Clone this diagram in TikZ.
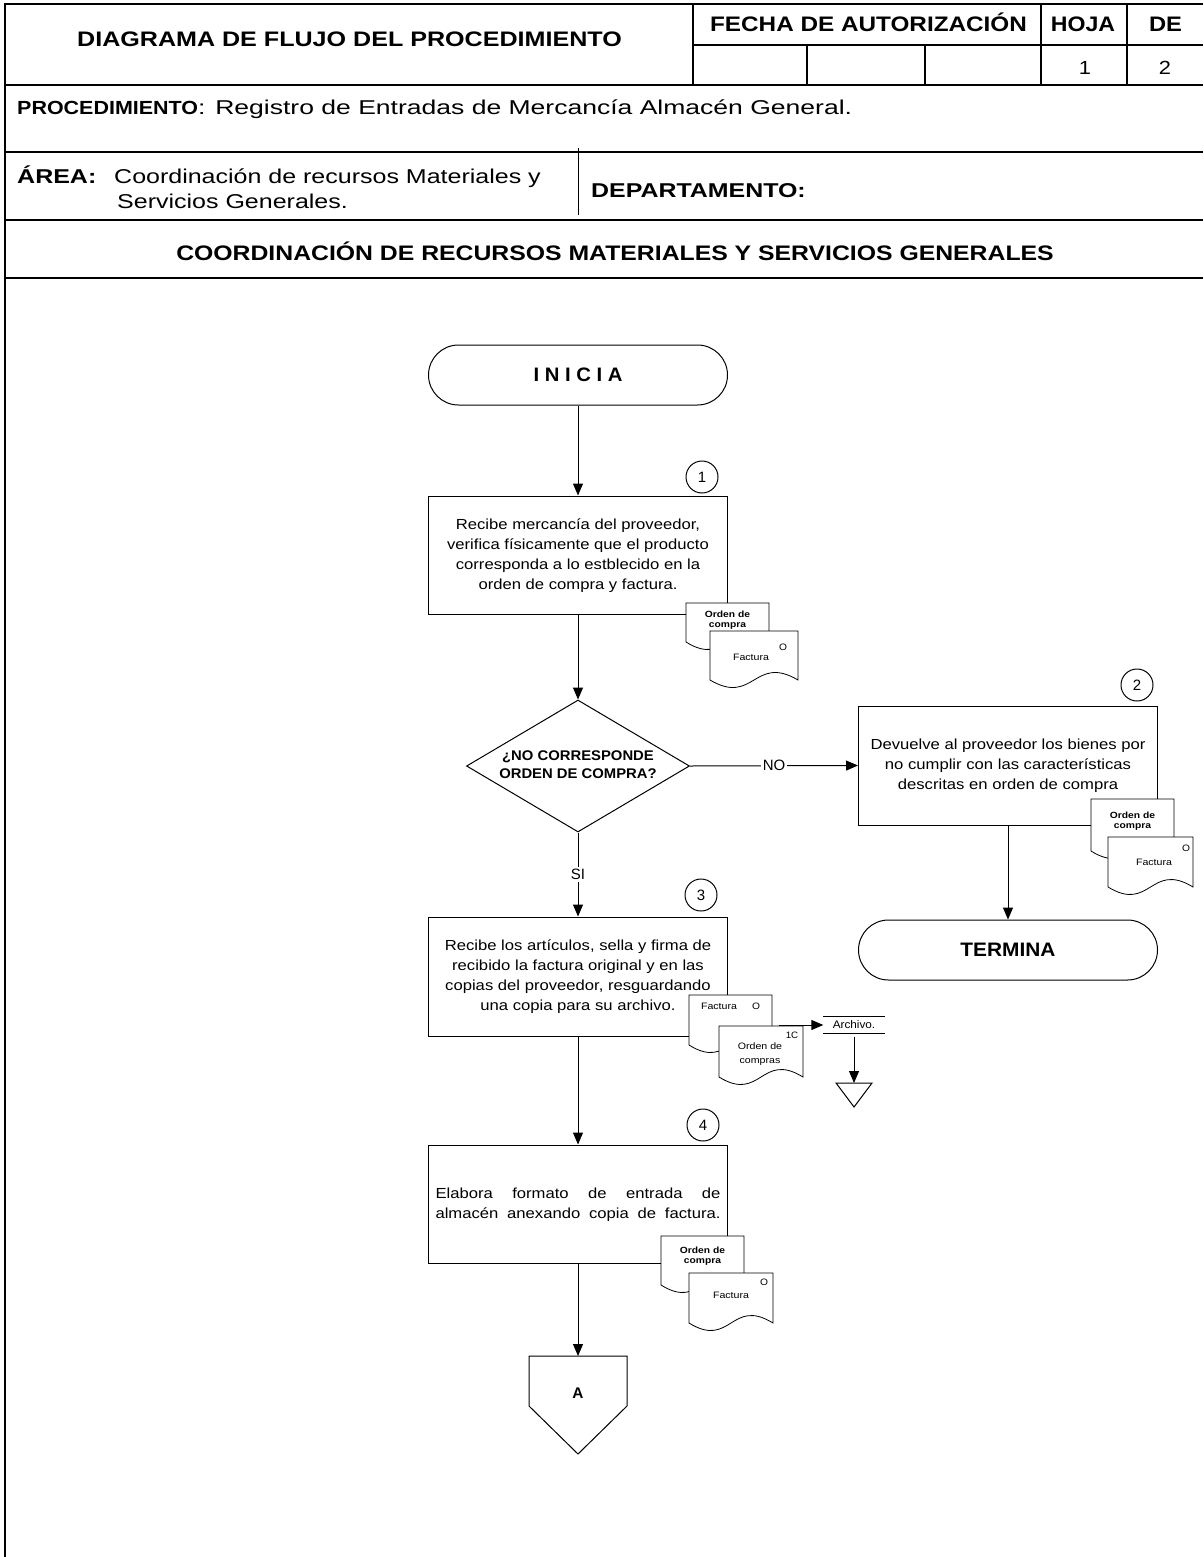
\documentclass[tikz,border=0pt]{standalone}
\usepackage{fontspec}
\setmainfont{Liberation Sans}
\usepackage{graphicx}
\usetikzlibrary{shapes.geometric,arrows.meta}
\newcommand{\hs}[2]{\scalebox{#1}[1]{#2}}
\newcommand{\fs}[2]{\fontsize{#1}{#2}\selectfont}
\newcommand{\docshape}[4]{%
  \draw[docline] (#1,#2) -- (#3,#2) -- (#3,#4) .. controls ({(#1+#3)/2},{#4-26}) and ({(#1+#3)/2},{#4+26}) .. (#1,#4) -- cycle;}
\begin{document}
\begin{tikzpicture}[x=1pt,y=-1pt,
  every node/.style={inner sep=0pt},
  frame/.style={line width=2pt},
  box/.style={draw, line width=1pt, minimum width=299pt, minimum height=118pt, fill=white, font=\fs{14.6}{20}},
  term/.style={draw, line width=1pt, rounded corners=30pt, minimum width=299pt, minimum height=60pt},
  num/.style={draw, circle, line width=1pt, minimum size=32pt, font=\fs{15}{18}},
  flow/.style={line width=1pt, -{Triangle[length=12pt,width=10pt]}},
  docline/.style={line width=0.8pt, fill=white},
  lbl/.style={fill=white, inner sep=2pt, font=\fs{15}{18}},
  hdb/.style={font=\fs{21}{25}\bfseries, anchor=base},
  dtb/.style={font=\fs{9}{10}\bfseries},
  dtr/.style={font=\fs{9.3}{11}}
]
\fill[white] (0,0) rectangle (1203,1557);
\useasboundingbox (0,0) rectangle (1203,1557);

% ---------- header frame ----------
\draw[frame] (1203,4) -- (5,4) -- (5,1557);
\draw[frame] (5,85) -- (1203,85);
\draw[frame] (5,152) -- (1203,152);
\draw[frame] (5,220) -- (1203,220);
\draw[frame] (5,278) -- (1203,278);
\draw[frame] (693,4) -- (693,85);
\draw[frame] (1041,4) -- (1041,85);
\draw[frame] (1127,4) -- (1127,85);
\draw[frame] (693,45) -- (1203,45);
\draw[line width=1.5pt] (807,45) -- (807,85);
\draw[line width=1.5pt] (925,45) -- (925,85);
\draw[line width=1pt] (578,148) -- (578,215);

% ---------- header texts ----------
\node[hdb] (tdiag) at (349.5,47) {\hs{1.195}{DIAGRAMA DE FLUJO DEL PROCEDIMIENTO}};
\node[hdb] (tfecha) at (868.5,32) {\hs{1.157}{FECHA DE AUTORIZACIÓN}};
\node[hdb] (thoja) at (1083,32) {\hs{1.1}{HOJA}};
\node[hdb] (tde) at (1165.5,32) {\hs{1.13}{DE}};
\node[anchor=base, font=\fs{19}{22}] (tuno) at (1085,75) {\hs{1.15}{1}};
\node[anchor=base, font=\fs{19}{22}] (tdos) at (1165,75) {\hs{1.15}{2}};
\node[anchor=base west] (tproc) at (17,115) {\hs{1.13}{\fs{19}{23}\bfseries PROCEDIMIENTO}\hs{1.326}{\fs{20}{24}: Registro de Entradas de Mercancía Almacén General.}};
\node[anchor=base west, font=\fs{20}{24}\bfseries] (tarea) at (17,183) {\hs{1.25}{ÁREA:}};
\node[anchor=base west, font=\fs{20}{24}] (tarea1) at (114,183) {\hs{1.25}{Coordinación de recursos Materiales y}};
\node[anchor=base west, font=\fs{20}{24}] (tarea2) at (117,208) {\hs{1.25}{Servicios Generales.}};
\node[anchor=base west, font=\fs{20}{24}\bfseries] (tdep) at (591,197) {\hs{1.246}{DEPARTAMENTO:}};
\node[hdb] (tcoord) at (615,260) {\hs{1.18}{COORDINACIÓN DE RECURSOS MATERIALES Y SERVICIOS GENERALES}};

% ---------- flowchart nodes ----------
\node[term, font=\fs{19.5}{22}\bfseries] (ini) at (578,375) {\hs{1.04}{I N I C I A}};
\node[box] (b1) at (578,555) {\hs{1.14}{\begin{tabular}{@{}c@{}}Recibe mercancía del proveedor,\\verifica físicamente que el producto\\corresponda a lo estblecido en la\\orden de compra y factura.\end{tabular}}};
\node[num] (n1) at (702,477) {1};
\node[diamond, draw, line width=1pt, aspect=1.69, minimum width=223pt, minimum height=132pt, font=\fs{14}{18}\bfseries] (d1) at (578,766) {\hs{1.06}{\begin{tabular}{@{}c@{}}¿NO CORRESPONDE\\ORDEN DE COMPRA?\end{tabular}}};
\node[box, minimum height=119pt] (b2) at (1008,765.5) {\hs{1.14}{\begin{tabular}{@{}c@{}}Devuelve al proveedor los bienes por\\no cumplir con las características\\descritas en orden de compra\end{tabular}}};
\node[num] (n2) at (1137,685) {2};
\node[term, font=\fs{19.5}{22}\bfseries] (fin) at (1008,950) {\hs{1.07}{TERMINA}};
\node[box, minimum height=119pt] (b3) at (578,976.5) {\hs{1.14}{\begin{tabular}{@{}c@{}}Recibe los artículos, sella y firma de\\recibido la factura original y en las\\copias del proveedor, resguardando\\una copia para su archivo.\end{tabular}}};
\node[num] (n3) at (701,895) {3};
\node[box] (b4) at (578,1204) {\hs{1.14}{\begin{tabular}{@{}l@{}}\makebox[250pt][s]{Elabora formato de entrada de}\\\makebox[250pt][s]{almacén anexando copia de factura.}\end{tabular}}};
\node[num] (n4) at (703,1125) {4};

% off-page connector A
\coordinate (Atop) at (578,1356);
\draw[line width=1pt, fill=white] (529,1356) -- (627,1356) -- (627,1406) -- (578,1454) -- (529,1406) -- cycle;
\node[font=\fs{15.4}{18}\bfseries] (A) at (578,1393) {A};

% archive
\node[font=\fs{11}{13}, minimum width=61pt, minimum height=16pt] (arch) at (854,1025) {\hs{1.07}{Archivo.}};
\draw[line width=1pt] (arch.north west) -- (arch.north east) (arch.south west) -- (arch.south east);
\coordinate (tri) at (854,1083);
\draw[line width=1pt] (836,1083) -- (872,1083) -- (854,1107) -- cycle;

% ---------- connectors ----------
\draw[flow] (ini.south) -- (b1.north);
\draw[flow] (b1.south) -- (d1.north);
\draw[flow] (d1.east) -- node[lbl] (lno) {NO} (b2.west);
\draw[flow] (d1.south) -- node[lbl] (lsi) {SI} (b3.north);
\draw[flow] (b2.south) -- (fin.north);
\draw[flow] (b3.south) -- (b4.north);
\draw[flow] (b4.south) -- (Atop);
\coordinate (d3out) at (779,1025);
\draw[flow] (d3out) -- (arch.west);
\draw[flow, shorten <=4pt] (arch.south) -- (tri);

% ---------- documents ----------
% step 1
\docshape{686}{603}{769}{642}
\node[dtb] (d1a) at (727.5,620) {\hs{1.14}{\begin{tabular}{@{}c@{}}Orden de\\compra\end{tabular}}};
\docshape{710}{631}{798}{680}
\node[dtr] (d1o) at (783,647) {\hs{1.1}{O}};
\node[dtr] (d1f) at (751,657) {\hs{1.14}{Factura}};
% step 2
\docshape{1091}{799}{1174}{851}
\node[dtb] (d2a) at (1132.5,821) {\hs{1.14}{\begin{tabular}{@{}c@{}}Orden de\\compra\end{tabular}}};
\docshape{1108}{837}{1193}{887}
\node[dtr] (d2o) at (1186,848) {\hs{1.1}{O}};
\node[dtr] (d2f) at (1154,862) {\hs{1.14}{Factura}};
% step 3
\docshape{689}{995}{772}{1045}
\node[dtr] (d3f) at (719,1006) {\hs{1.14}{Factura}};
\node[dtr] (d3o) at (756,1006) {\hs{1.1}{O}};
\docshape{719}{1026}{803}{1077}
\node[dtr] (d3c) at (792,1035) {\hs{1.05}{1C}};
\node[font=\fs{9.3}{13.4}] (d3a) at (760,1054) {\hs{1.14}{\begin{tabular}{@{}c@{}}Orden de\\compras\end{tabular}}};
% step 4
\docshape{661}{1236}{744}{1285}
\node[dtb] (d4a) at (702.5,1256) {\hs{1.14}{\begin{tabular}{@{}c@{}}Orden de\\compra\end{tabular}}};
\docshape{689}{1273}{773}{1323}
\node[dtr] (d4o) at (764,1282) {\hs{1.1}{O}};
\node[dtr] (d4f) at (731,1295) {\hs{1.14}{Factura}};
\end{tikzpicture}
\end{document}
